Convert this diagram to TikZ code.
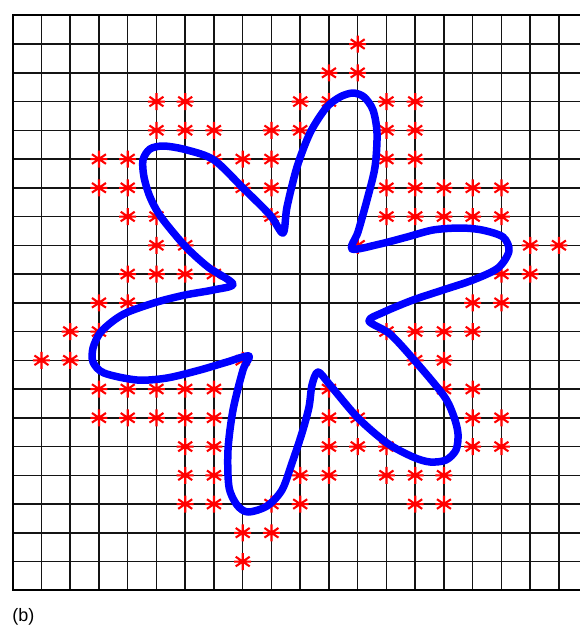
\documentclass[tikz,border=0pt]{standalone}
\usepackage{fontspec}
\setmainfont{Liberation Sans}

\tikzset{every picture/.style={line width=0.75pt}}
\tikzset{
  gridline/.style={draw={rgb,255:red,20;green,20;blue,20}, line width=1.5pt},
  axisline/.style={draw=black, line width=2.2pt},
  flower/.style={draw={rgb,255:red,0;green,0;blue,255}, line width=7.5pt, line join=round},
  mstar/.pic={\draw[red, line width=2.1pt] (-8.5,0) -- (8.5,0) (0,-8.5) -- (0,8.5)
      (-7,-4.8) -- (7,4.8) (-7,4.8) -- (7,-4.8);}
}

\begin{document}
\begin{tikzpicture}[x=1pt,y=1pt,yscale=-1,xscale=1]
\path[use as bounding box] (0,0) rectangle (580,627);

% Grid
\foreach \i in {1,...,19}
  \draw[gridline] ({12.7+28.75*\i},15.3) -- ({12.7+28.75*\i},590.3);
\foreach \j in {1,...,19}
  \draw[gridline] (12.7,{15.3+28.75*\j}) -- (580,{15.3+28.75*\j});
% Axes box
\draw[axisline] (580,15.3) -- (12.7,15.3) -- (12.7,590.3) -- (580,590.3);

% Stars (column / row of the grid)
\foreach \r/\cols in {1/{12}, 2/{11,12}, 3/{5,6,10,11,13,14}, 4/{5,6,7,9,10,13,14},
    5/{3,4,7,8,9,13,14}, 6/{3,4,8,9,13,14,15,16,17}, 7/{4,5,9,13,14,15,16,17},
    8/{5,6,12,18,19}, 9/{4,5,6,7,17,18}, 10/{3,4,16,17}, 11/{2,3,13,14,15,16},
    12/{1,2,8,14,15}, 13/{3,4,5,6,7,11,15,16}, 14/{3,4,5,6,7,11,12,16,17},
    15/{6,7,11,12,13,16,17}, 16/{6,7,10,11,13,14,15}, 17/{6,7,9,10,14,15},
    18/{8,9}, 19/{8}}
  \foreach \c in \cols
    \pic at ({12.7+28.75*\c},{15.3+28.75*\r}) {mstar};

%Curve Lines: flower
\draw[flower] plot[smooth cycle, tension=0.5] coordinates {
  (353,93) (364,97) (373,110) (377,133) (375,167) (367,200) (358,232) (352,249)
  (380,244) (407,237) (433,230) (460,228) (482,230) (503,237) (509,251) (498,268)
  (473,280) (443,290) (413,300) (384,312) (369,321)
  (390,334) (415,361) (444,396) (454,417) (458,434) (456,450) (446,460) (430,462)
  (413,457) (387,443) (358,418) (330,385) (318,372)
  (312,385) (309,407) (302,433) (292,463) (282,490) (267,506) (248,512) (237,505)
  (229,487) (228,450) (233,410) (243,370) (249,356)
  (227,362) (200,370) (167,378) (137,380) (104,373) (93,362) (93,348) (100,333)
  (113,321) (128,312) (157,302) (185,295) (213,290) (233,284)
  (208,267) (185,246) (161,217) (150,197) (144,177) (143,160) (150,149) (164,146)
  (187,150) (214,160) (243,188) (270,215) (283,233)
  (287,207) (297,167) (310,133) (326,108) (340,97)};

% Text Node
\node[anchor=base west, inner sep=0pt, font=\fontsize{18}{21}\selectfont] (lab) at (12,621.5) {(b)};
\end{tikzpicture}
\end{document}
